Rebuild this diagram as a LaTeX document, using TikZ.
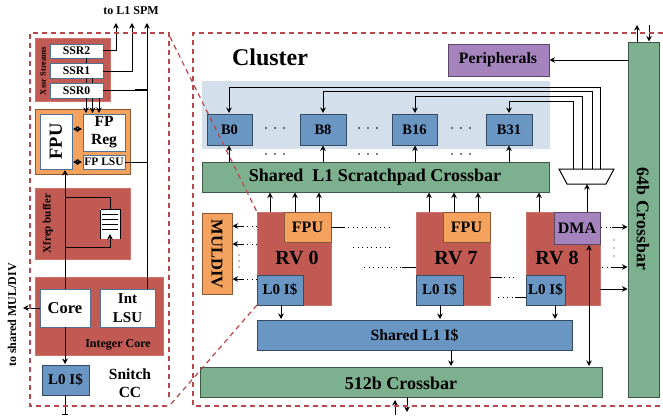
\documentclass[tikz,border=0pt]{standalone}
\usepackage{fontspec}
\setmainfont{Liberation Serif}
\usetikzlibrary{arrows.meta,calc}
\definecolor{cred}{HTML}{C05A52}
\definecolor{corange}{HTML}{F4A25E}
\definecolor{cblue}{HTML}{6A96C3}
\definecolor{cgreen}{HTML}{7DB08E}
\definecolor{cpurple}{HTML}{A583BD}
\definecolor{clight}{HTML}{D3DFEB}
\definecolor{cdash}{HTML}{B8474C}
\newcommand{\fz}[1]{\fontsize{#1}{#1}\selectfont}
\tikzset{
  x=1pt,y=-1pt,
  every node/.style={font=\bfseries,text=black,inner sep=0pt},
  redbox/.style={fill=cred,draw=cred!85!white,line width=.6pt},
  orbox/.style={fill=corange,draw=corange!55!black,line width=1pt},
  bluebox/.style={fill=cblue,draw=cblue!50!black,line width=1pt},
  greenbox/.style={fill=cgreen,draw=cgreen!50!black,line width=1pt},
  purbox/.style={fill=cpurple,draw=cpurple!55!black,line width=1pt},
  whitebox/.style={fill=white,draw=cblue!75!black,line width=1pt},
  conn/.style={line width=.9pt,draw=black},
  arr/.style={conn,-{Stealth[length=5.5pt,width=5.5pt]}},
  barr/.style={conn,{Stealth[length=5.5pt,width=5.5pt]}-{Stealth[length=5.5pt,width=5.5pt]}},
  dotline/.style={line width=1pt,dash pattern=on 1pt off 3.5pt,draw=black},
  dashr/.style={draw=cdash,line width=1.2pt,dash pattern=on 5pt off 4pt},
}
\newcommand{\rect}[6]{% style, name, x1,y1,x2,y2
  \path[#1] (#3,#4) rectangle (#5,#6);
  \coordinate (#2) at ($(#3,#4)!.5!(#5,#6)$);}
\begin{document}
\begin{tikzpicture}
\useasboundingbox (0,0) rectangle (663,415);
% Cluster backdrop
\rect{fill=clight}{bgbanks}{202}{81}{550}{149}
% Red blocks of left part
\rect{redbox}{xssr}{35}{38}{110}{101}
\rect{orbox}{fpss}{35}{109}{130}{174}
\rect{redbox}{xfrep}{35}{188}{130}{259}
\rect{redbox}{intc}{35}{277}{163}{355}
\coordinate (spm2) at (116,23);\coordinate (spm1) at (132,23);\coordinate (spm0) at (147,23);
\rect{whitebox}{ssr2}{50}{44}{103}{58}
\rect{whitebox}{ssr1}{50}{63}{103}{78}
\rect{whitebox}{ssr0}{50}{83}{103}{98}
\rect{whitebox}{fpu}{40}{114}{72}{169}
\rect{whitebox}{fpreg}{83}{114}{125}{151}
\rect{whitebox}{fplsu}{83}{155}{125}{169}
\rect{whitebox}{core}{40}{289}{90}{327}
\rect{whitebox}{ilsu}{100}{289}{155}{327}
\rect{bluebox}{l0s}{42}{365}{89}{395}
\node[font=\bfseries\fz{11.7}] (t1) at (ssr2) {SSR2};
\node[font=\bfseries\fz{11.7}] (t2) at (ssr1) {SSR1};
\node[font=\bfseries\fz{11.7}] (t3) at (ssr0) {SSR0};
\node[font=\bfseries\fz{18.5},rotate=90] (t4) at (56,141.5) {FPU};
\node[font=\bfseries\fontsize{15.5}{18}\selectfont,align=center] (t5) at (fpreg) {FP\\Reg};
\node[font=\bfseries\fz{11.5}] (t6) at (fplsu) {FP LSU};
\node[font=\bfseries\fz{16.5}] (t7) at (core) {Core};
\node[font=\bfseries\fontsize{15}{19}\selectfont,align=center] (t8) at (ilsu) {Int\\LSU};
\node[font=\bfseries\fz{15}] (t9) at (l0s) {L0 I\$};
\node[font=\bfseries\fz{8.5}] [rotate=90] (t10) at (43,71) {Xssr Streams};
\node[font=\bfseries\fz{11},rotate=90] (t11) at (48,223.5) {Xfrep buffer};
\node[font=\bfseries\fz{12}] (t12) at (118,345) {Integer Core};
\node[font=\bfseries\fontsize{15.5}{18.5}\selectfont,align=center] (t13) at (130,383) {Snitch\\CC};
\node[font=\bfseries\fz{12}] (t14) at (131,11) {to L1 SPM};
\node[font=\bfseries\fz{12},rotate=90] (t15) at (12,315) {to shared MUL/DIV};
% snitch connectors
\draw[arr] (103,50) -| (spm2);
\draw[arr] (103,71) -| (spm1);
\draw[conn] (103,90) -- (147,90);
\draw[line width=1.4pt] (135,90) -- (147,90);
\draw[arr] (147,289) -- (spm0);
\draw[conn] (125,162) -- (147,162);
\draw[conn] (86,58) -- (86,63) (86,78) -- (86,83) (92.5,78) -- (92.5,83);
\draw[arr] (86,98) -- (86,113);
\draw[arr] (92.5,98) -- (92.5,113);
\draw[arr] (99,98) -- (99,113);
\draw[barr] (73,129) -- (82,129);
\draw[barr] (73,162) -- (82,162);
\draw[arr] (65,289) -- (65,170);
\draw[conn] (65,197) -- (110,197) -- (110,209);
% buffer icon
\path[fill=white] (100,209) rectangle (121,239);
\draw[line width=1.2pt] (100.5,239) -- (100.5,209.5) (120.5,209.5) -- (120.5,239);
\draw[line width=.5pt] (100.5,209.5) -- (120.5,209.5);
\draw[conn] (102,214) -- (118,214) (102,219) -- (118,219) (102,224) -- (118,224) (102,229) -- (118,229);
\draw[arr] (65,247) -- (110,247) -- (110,234);
\draw[arr] (40,308) -- (23,308);
\draw[arr] (65,327) -- (65,364);
\draw[conn] (65,395) -- (65,414) (62,414) -- (68,414);
% Cluster blocks
\rect{bluebox}{b0}{207}{114}{252}{145}
\rect{bluebox}{b8}{300}{114}{346}{145}
\rect{bluebox}{b16}{392}{114}{437}{145}
\rect{bluebox}{b31}{486}{114}{532}{145}
\rect{greenbox}{xbar}{202}{162}{549}{192}
\rect{purbox}{periph}{448}{44}{549}{76}
\rect{greenbox}{xb64}{628}{42}{659}{397}
\rect{redbox}{rv0}{257}{212}{331}{305}
\rect{redbox}{rv7}{416}{212}{490}{305}
\rect{redbox}{rv8}{526}{212}{600}{305}
\rect{orbox}{fpu0}{284}{212}{331}{242}
\rect{orbox}{fpu7}{443}{212}{490}{242}
\rect{purbox}{dma}{554}{212}{600}{244}
\rect{bluebox}{l00}{257}{275}{303}{305}
\rect{bluebox}{l07}{416}{275}{463}{305}
\rect{bluebox}{l08}{526}{275}{565}{305}
\rect{orbox}{muldiv}{202}{213}{232}{294}
\rect{bluebox}{l1i}{257}{320}{572}{350}
\rect{greenbox}{xb512}{200}{367}{602}{397}
\path[fill=white,draw=black,line width=1pt] (559,169) -- (614,169) -- (606,184) -- (567,184) -- cycle;
\coordinate (mux) at (587,184);
% Cluster labels
\node[font=\bfseries\fz{24}] (c1) at (270,57) {Cluster};
\node[font=\bfseries\fz{14.5}] (c2) at (b0) {B0};
\node[font=\bfseries\fz{14.5}] (c3) at (b8) {B8};
\node[font=\bfseries\fz{14.5}] (c4) at (b16) {B16};
\node[font=\bfseries\fz{14.5}] (c5) at (b31) {B31};
\node[font=\bfseries\fz{18}] (c6) at (375,177) {Shared\ \ L1 Scratchpad Crossbar};
\node[font=\bfseries\fz{15.8}] (c7) at (498,60) {Peripherals};
\node[font=\bfseries\fz{17.8},rotate=-90] (c8) at (643,219) {64b Crossbar};
\node[font=\bfseries\fz{16}] (c9) at (fpu0) {FPU};
\node[font=\bfseries\fz{16}] (c10) at (fpu7) {FPU};
\node[font=\bfseries\fz{16}] (c11) at (dma) {DMA};
\node[font=\bfseries\fz{20}] (c12) at (297,258) {RV 0};
\node[font=\bfseries\fz{20}] (c13) at (456,258) {RV 7};
\node[font=\bfseries\fz{20}] (c14) at (557,258) {RV 8};
\node[font=\bfseries\fz{15}] (c15) at (l00) {L0 I\$};
\node[font=\bfseries\fz{15}] (c16) at (l07) {L0 I\$};
\node[font=\bfseries\fz{15}] (c17) at (l08) {L0 I\$};
\node[font=\bfseries\fz{16.5},rotate=-90] (c18) at (217,254) {MULDIV};
\node[font=\bfseries\fz{15.7}] (c19) at (414.5,335) {Shared L1 I\$};
\node[font=\bfseries\fz{18}] (c20) at (401,383) {512b Crossbar};
% bank connectors
\foreach \xx in {229,323,415,509}{\draw[arr] (\xx,162) -- (\xx,145.5);}
\draw[arr] (573,169) -- (573,101) -- (509,101) -- (509,113);
\draw[arr] (582,169) -- (582,96) -- (415,96) -- (415,113);
\draw[arr] (592,169) -- (592,91) -- (323,91) -- (323,113);
\draw[arr] (600,169) -- (600,87) -- (229,87) -- (229,113);
\draw[arr] (587,212) -- (mux);
% crossbar inputs
\foreach \xx in {270,295,319,429,454,478,539}{\draw[arr] (\xx,212) -- (\xx,192.5);}
% peripherals & 64b
\draw[arr] (628,60) -- (549.5,60);
\coordinate (top1) at (637,25);\coordinate (top2) at (649,25);
\draw[arr] (637,42) -- (top1);
\draw[arr] (top2) -- (649,41.5);
% DMA etc.
\draw[barr] (589,245) -- (589,366);
\draw[arr] (281,305) -- (281,319);
\draw[arr] (440,305) -- (440,319);
\draw[arr] (555,305) -- (555,319);
\draw[arr] (451,350) -- (451,366);
\coordinate (ext1) at (395,415);\coordinate (ext2) at (407,412);
\draw[arr] (ext1) -- (395,400);
\draw[arr] (407,397) -- (ext2);
% MUL/DIV
\foreach \yy in {226,244,279}{
  \draw[arr] (244,\yy) -- (232.5,\yy);
  \draw[dotline] (247,\yy) -- (257,\yy);}
% FPU & others dotted
\draw[conn] (331,227) -- (345,227);
\draw[dotline] (348,227) -- (390,227);
\draw[dotline] (353,247) -- (390,247);
\draw[dotline] (364,267) -- (402,267);
\draw[conn] (402,267) -- (416,267);
\draw[conn] (490,277) -- (502,277);
\draw[dotline] (504,277) -- (514,277);
\draw[dotline] (498,297) -- (514,297);
\draw[conn] (515,297) -- (526,297);
\draw[dotline] (601,227) -- (616,227);
\draw[arr] (612,227) -- (627.5,227);
\draw[dotline] (602,267) -- (616,267);
\draw[arr] (612,267) -- (627.5,267);
\draw[arr] (600,289) -- (627.5,289);
% dot rows
\foreach \xx in {275,368,461}{
  \foreach \yy in {128,154}{
    \foreach \dd in {-9,0,9}{\fill (\xx+\dd,\yy) circle (.8);}}}
\foreach \yy in {255,261,267}{\fill (239,\yy) circle (.7);}
\foreach \yy in {240,248,256}{\fill (614,\yy) circle (.7);}
% dashed frames
\draw[dashr] (169,397) -- (169,33) -- (30,33) -- (30,406) -- (169,406);
\draw[dashr] (663,33) -- (193,33) -- (193,406) -- (663,406);
\draw[dashr] (170,37) -- (257,212);
\draw[dashr] (257,305) -- (171,404);
\end{tikzpicture}
\end{document}
